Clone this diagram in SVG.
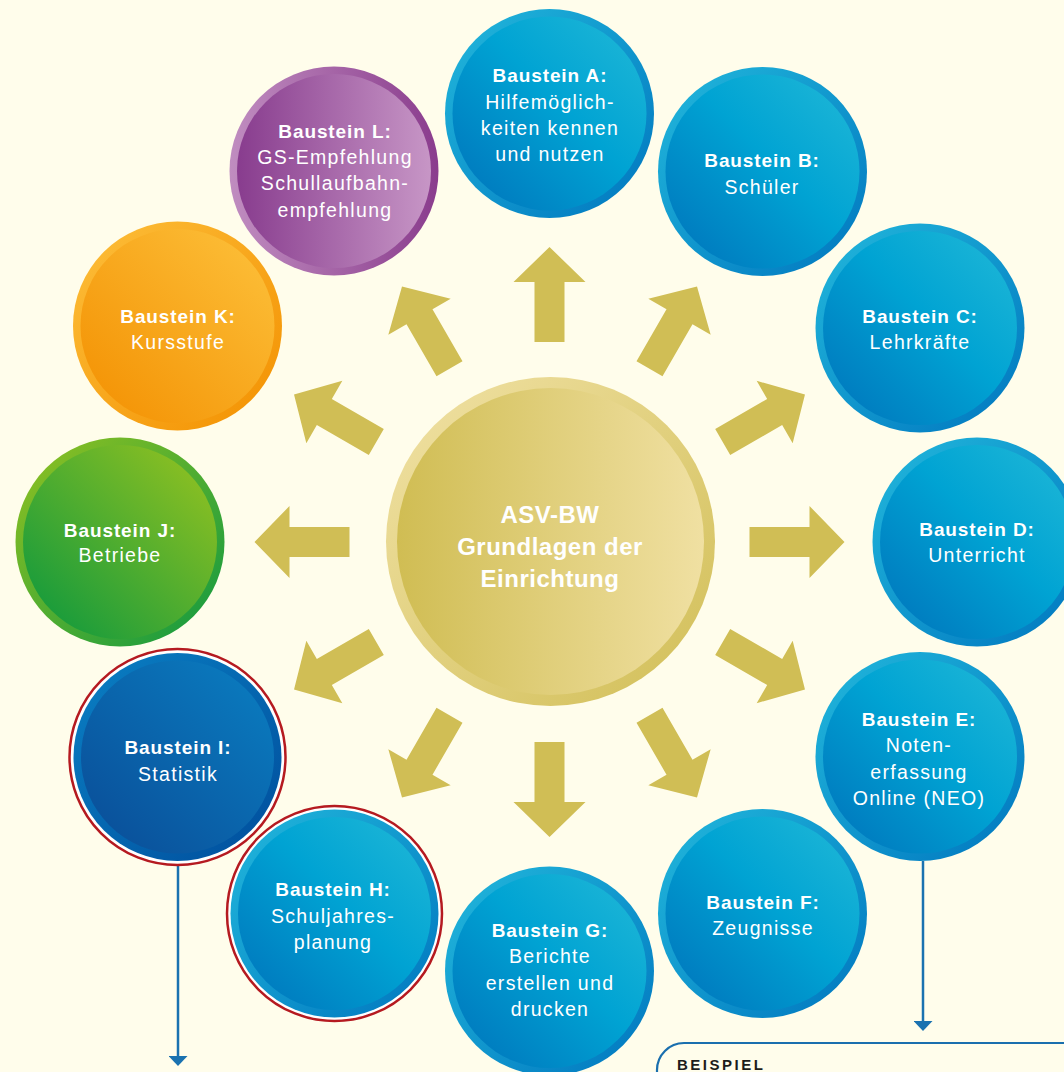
<svg xmlns="http://www.w3.org/2000/svg" xmlns:xlink="http://www.w3.org/1999/xlink" width="1064" height="1072" viewBox="0 0 1064 1072">
<defs>
<style>
.t{font-family:"Liberation Sans",Arial,sans-serif;fill:#ffffff;text-anchor:middle;font-size:19.5px;letter-spacing:1.3px}
.b{font-weight:bold;font-size:19px;letter-spacing:0.9px}
.c{font-family:"Liberation Sans",Arial,sans-serif;fill:#ffffff;text-anchor:middle;font-size:24px;font-weight:bold;letter-spacing:0.5px}
.arw{fill:#d0be55}
.conn{stroke:#1a72b0;stroke-width:2.5;fill:none}
.red{fill:#ffffff;stroke:#b51a20;stroke-width:2.5}
</style>
<linearGradient id="blueRing" x1="0" y1="0" x2="1" y2="1"><stop offset="0" stop-color="#22b8dc"/><stop offset="1" stop-color="#0076bf"/></linearGradient>
<linearGradient id="blueIn" x1="0" y1="1" x2="1" y2="0"><stop offset="0" stop-color="#0071ba"/><stop offset="0.55" stop-color="#00a3d3"/><stop offset="1" stop-color="#22b9d7"/></linearGradient>
<linearGradient id="dblueRing" x1="0" y1="0" x2="1" y2="1"><stop offset="0" stop-color="#0a80c4"/><stop offset="1" stop-color="#004d9c"/></linearGradient>
<linearGradient id="dblueIn" x1="0" y1="1" x2="1" y2="0"><stop offset="0" stop-color="#0a4b96"/><stop offset="1" stop-color="#0a7fc2"/></linearGradient>
<linearGradient id="greenRing" x1="0" y1="0" x2="1" y2="1"><stop offset="0" stop-color="#93c220"/><stop offset="1" stop-color="#0e9842"/></linearGradient>
<linearGradient id="greenIn" x1="0" y1="1" x2="1" y2="0"><stop offset="0" stop-color="#07963f"/><stop offset="1" stop-color="#9ac41f"/></linearGradient>
<linearGradient id="orRing" x1="0" y1="0" x2="1" y2="1"><stop offset="0" stop-color="#fdbf3a"/><stop offset="1" stop-color="#f39000"/></linearGradient>
<linearGradient id="orIn" x1="0" y1="1" x2="1" y2="0"><stop offset="0" stop-color="#f38f00"/><stop offset="1" stop-color="#fdc23c"/></linearGradient>
<linearGradient id="puRing" x1="0" y1="0" x2="1" y2="0"><stop offset="0" stop-color="#c08dc0"/><stop offset="1" stop-color="#8a3c8d"/></linearGradient>
<linearGradient id="puIn" x1="0" y1="0" x2="1" y2="0"><stop offset="0" stop-color="#883c8e"/><stop offset="1" stop-color="#c796c6"/></linearGradient>
<linearGradient id="goRing" x1="0" y1="0" x2="1" y2="1"><stop offset="0" stop-color="#f1e2a6"/><stop offset="1" stop-color="#d1be56"/></linearGradient>
<linearGradient id="goIn" x1="0" y1="0" x2="1" y2="0"><stop offset="0" stop-color="#d0bd53"/><stop offset="1" stop-color="#f0e0a2"/></linearGradient>
<path id="arrowShape" d="M200,-15 L260,-15 L260,-36 L295,0 L260,36 L260,15 L200,15 Z"/>
<marker id="head" viewBox="0 0 10 19" refX="0" refY="9.5" markerWidth="10" markerHeight="19" markerUnits="userSpaceOnUse" orient="auto"><path d="M0,0 L10,9.5 L0,19 Z" fill="#1a72b0"/></marker>
</defs>
<rect x="0" y="0" width="1064" height="1072" fill="#fffdeb"/>

<g id="arrows">
<use xlink:href="#arrowShape" href="#arrowShape" class="arw" transform="translate(549.5,542) rotate(0)"/>
<use xlink:href="#arrowShape" href="#arrowShape" class="arw" transform="translate(549.5,542) rotate(-30)"/>
<use xlink:href="#arrowShape" href="#arrowShape" class="arw" transform="translate(549.5,542) rotate(-60)"/>
<use xlink:href="#arrowShape" href="#arrowShape" class="arw" transform="translate(549.5,542) rotate(-90)"/>
<use xlink:href="#arrowShape" href="#arrowShape" class="arw" transform="translate(549.5,542) rotate(-120)"/>
<use xlink:href="#arrowShape" href="#arrowShape" class="arw" transform="translate(549.5,542) rotate(-150)"/>
<use xlink:href="#arrowShape" href="#arrowShape" class="arw" transform="translate(549.5,542) rotate(180)"/>
<use xlink:href="#arrowShape" href="#arrowShape" class="arw" transform="translate(549.5,542) rotate(150)"/>
<use xlink:href="#arrowShape" href="#arrowShape" class="arw" transform="translate(549.5,542) rotate(120)"/>
<use xlink:href="#arrowShape" href="#arrowShape" class="arw" transform="translate(549.5,542) rotate(90)"/>
<use xlink:href="#arrowShape" href="#arrowShape" class="arw" transform="translate(549.5,542) rotate(60)"/>
<use xlink:href="#arrowShape" href="#arrowShape" class="arw" transform="translate(549.5,542) rotate(30)"/>
</g>

<g id="connectors">
<line class="conn" x1="178" y1="866" x2="178" y2="1056" marker-end="url(#head)"/>
<line class="conn" x1="923" y1="861" x2="923" y2="1021" marker-end="url(#head)"/>
</g>

<g id="center">
<circle cx="550.5" cy="541.5" r="164.5" fill="url(#goRing)"/>
<circle cx="550.5" cy="541.5" r="153.5" fill="url(#goIn)"/>
<text class="c" x="550" y="523">ASV-BW</text>
<text class="c" x="550" y="555">Grundlagen der</text>
<text class="c" x="550" y="587">Einrichtung</text>
</g>

<g id="nodeA">
<circle cx="549.5" cy="113.5" r="104.5" fill="url(#blueRing)"/>
<circle cx="549.5" cy="113.5" r="97" fill="url(#blueIn)"/>
<text class="t b" x="550" y="82">Baustein A:</text>
<text class="t" x="550" y="109">Hilfemöglich-</text>
<text class="t" x="550" y="135">keiten kennen</text>
<text class="t" x="550" y="161">und nutzen</text>
</g>

<g id="nodeB">
<circle cx="762.5" cy="171.5" r="104.5" fill="url(#blueRing)"/>
<circle cx="762.5" cy="171.5" r="97" fill="url(#blueIn)"/>
<text class="t b" x="762" y="167">Baustein B:</text>
<text class="t" x="762" y="194">Schüler</text>
</g>

<g id="nodeC">
<circle cx="920" cy="328" r="104.5" fill="url(#blueRing)"/>
<circle cx="920" cy="328" r="97" fill="url(#blueIn)"/>
<text class="t b" x="920" y="323">Baustein C:</text>
<text class="t" x="920" y="349">Lehrkräfte</text>
</g>

<g id="nodeD">
<circle cx="977" cy="542" r="104.5" fill="url(#blueRing)"/>
<circle cx="977" cy="542" r="97" fill="url(#blueIn)"/>
<text class="t b" x="977" y="536">Baustein D:</text>
<text class="t" x="977" y="562">Unterricht</text>
</g>

<g id="nodeE">
<circle cx="920" cy="756.5" r="104.5" fill="url(#blueRing)"/>
<circle cx="920" cy="756.5" r="97" fill="url(#blueIn)"/>
<text class="t b" x="919" y="726">Baustein E:</text>
<text class="t" x="919" y="752">Noten-</text>
<text class="t" x="919" y="779">erfassung</text>
<text class="t" x="919" y="805">Online (NEO)</text>
</g>

<g id="nodeF">
<circle cx="762.5" cy="913.5" r="104.5" fill="url(#blueRing)"/>
<circle cx="762.5" cy="913.5" r="97" fill="url(#blueIn)"/>
<text class="t b" x="763" y="909">Baustein F:</text>
<text class="t" x="763" y="935">Zeugnisse</text>
</g>

<g id="nodeG">
<circle cx="549.5" cy="971" r="104.5" fill="url(#blueRing)"/>
<circle cx="549.5" cy="971" r="97" fill="url(#blueIn)"/>
<text class="t b" x="550" y="937">Baustein G:</text>
<text class="t" x="550" y="963">Berichte</text>
<text class="t" x="550" y="990">erstellen und</text>
<text class="t" x="550" y="1016">drucken</text>
</g>

<g id="nodeH">
<circle class="red" cx="334.5" cy="913.5" r="107.5"/>
<circle cx="334.5" cy="913.5" r="104" fill="url(#blueRing)"/>
<circle cx="334.5" cy="913.5" r="96.5" fill="url(#blueIn)"/>
<text class="t b" x="333" y="896">Baustein H:</text>
<text class="t" x="333" y="923">Schuljahres-</text>
<text class="t" x="333" y="949">planung</text>
</g>

<g id="nodeI">
<circle class="red" cx="177.5" cy="757" r="108"/>
<circle cx="177.5" cy="757" r="104" fill="url(#dblueRing)"/>
<circle cx="177.5" cy="757" r="96.5" fill="url(#dblueIn)"/>
<text class="t b" x="178" y="754">Baustein I:</text>
<text class="t" x="178" y="781">Statistik</text>
</g>

<g id="nodeJ">
<circle cx="120" cy="542" r="104.5" fill="url(#greenRing)"/>
<circle cx="120" cy="542" r="97" fill="url(#greenIn)"/>
<text class="t b" x="120" y="537">Baustein J:</text>
<text class="t" x="120" y="562">Betriebe</text>
</g>

<g id="nodeK">
<circle cx="177.5" cy="326" r="104.5" fill="url(#orRing)"/>
<circle cx="177.5" cy="326" r="97" fill="url(#orIn)"/>
<text class="t b" x="178" y="323">Baustein K:</text>
<text class="t" x="178" y="349">Kursstufe</text>
</g>

<g id="nodeL">
<circle cx="334" cy="171" r="104.5" fill="url(#puRing)"/>
<circle cx="334" cy="171" r="97" fill="url(#puIn)"/>
<text class="t b" x="335" y="138">Baustein L:</text>
<text class="t" x="335" y="164">GS-Empfehlung</text>
<text class="t" x="335" y="190">Schullaufbahn-</text>
<text class="t" x="335" y="217">empfehlung</text>
</g>

<g id="beispiel">
<rect x="657" y="1043" width="520" height="200" rx="27" ry="27" fill="none" stroke="#1a6fae" stroke-width="2.2"/>
<text x="677" y="1070" font-family="Liberation Sans, Arial, sans-serif" font-weight="bold" font-size="15" letter-spacing="2.5" fill="#1d1d1b">BEISPIEL</text>
</g>
</svg>
